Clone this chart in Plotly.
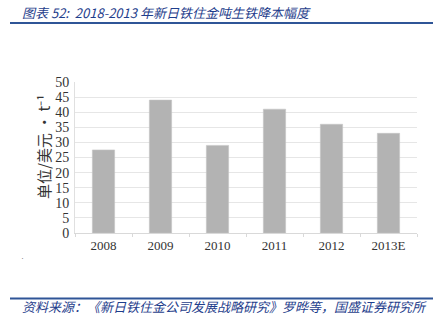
import plotly.graph_objects as go

categories = ["2008", "2009", "2010", "2011", "2012", "2013E"]
values = [27.5, 44, 29, 41, 36, 33]
y_ticks = list(range(0, 55, 5))

W, H = 438, 320
L, R, T, B = 75, 21, 82, 87
PW, PH = W - L - R, H - T - B


def px(x):
    return (x - L) / PW


def py(y):
    return (H - B - y) / PH


BLUE_LINE = "#2F5597"
BLUE_TEXT = "#1F3E8C"
CJK = "Noto Sans CJK SC"

fig = go.Figure(go.Bar(
    x=categories, y=values,
    marker=dict(color="#B3B3B3", line=dict(color="#C4C4C4", width=0.6)),
    width=0.39,
))

fig.update_layout(
    width=W, height=H,
    margin=dict(l=L, r=R, t=T, b=B),
    paper_bgcolor="white", plot_bgcolor="white",
    showlegend=False,
    font=dict(family="Liberation Serif", color="#333333", size=13),
    xaxis=dict(
        showgrid=False, showline=True, linecolor="#D9D9D9", linewidth=1,
        ticks="outside", ticklen=3, tickcolor="#D9D9D9", tickson="boundaries",
        tickfont=dict(family="Liberation Serif", size=13, color="#333333"),
    ),
    yaxis=dict(
        range=[0, 50], tickvals=y_ticks, showgrid=True, gridcolor="#E6E6E6",
        gridwidth=1, showline=True, linecolor="#E0E0E0", zeroline=False,
        ticks="", ticklabelstandoff=2,
        tickfont=dict(family="Liberation Serif", size=14, color="#333333"),
    ),
    shapes=[
        dict(type="line", xref="paper", yref="paper", x0=px(10), x1=px(433),
             y0=py(23), y1=py(23), line=dict(color=BLUE_LINE, width=2)),
        dict(type="line", xref="paper", yref="paper", x0=px(10), x1=px(433),
             y0=py(298.5), y1=py(298.5), line=dict(color=BLUE_LINE, width=2)),
    ],
    annotations=[
        dict(text="<i>图表 52:  2018-2013 年新日铁住金吨生铁降本幅度</i>",
             xref="paper", yref="paper", x=px(20), y=py(12),
             xanchor="left", yanchor="middle", showarrow=False,
             font=dict(family=CJK, size=13, color=BLUE_TEXT)),
        dict(text="<i>资料来源：《新日铁住金公司发展战略研究》罗晔等，国盛证券研究所</i>",
             xref="paper", yref="paper", x=px(20), y=py(306.5),
             xanchor="left", yanchor="middle", showarrow=False,
             font=dict(family=CJK, size=13, color=BLUE_TEXT)),
        dict(text="单位/美元 · t⁻¹",
             xref="paper", yref="paper", x=px(43), y=py(147),
             xanchor="center", yanchor="middle", showarrow=False, textangle=-90,
             font=dict(family=CJK, size=15, color="#333333")),
        dict(text="·", xref="paper", yref="paper", x=px(22), y=py(258),
             xanchor="center", yanchor="middle", showarrow=False,
             font=dict(size=9, color="#666666")),
    ],
)

fig.write_html("out.html")
